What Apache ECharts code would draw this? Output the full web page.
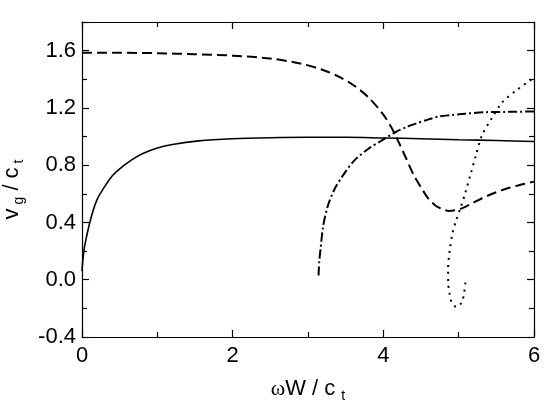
<!DOCTYPE html>
<html>
<head>
<meta charset="utf-8">
<script src="https://cdn.jsdelivr.net/npm/echarts@6/dist/echarts.min.js"></script>
<style>
  html, body { margin: 0; padding: 0; background: #fff; }
  #chart { width: 546px; height: 410px; }
</style>
</head>
<body>
<div id="chart"></div>
<script>
// [omega W / c_t, v_g / c_t]
const solidCurve = [
  [0, 0.06], [0.01, 0.13], [0.03, 0.22], [0.06, 0.30], [0.09, 0.37], [0.14, 0.47],
  [0.2, 0.56], [0.3, 0.65], [0.4, 0.725], [0.5, 0.775], [0.67, 0.84], [0.8, 0.88],
  [1.0, 0.92], [1.2, 0.945], [1.55, 0.97], [2.0, 0.985], [2.5, 0.992], [3.0, 0.995],
  [3.5, 0.995], [4.0, 0.99], [4.5, 0.985], [5.0, 0.978], [5.5, 0.972], [6.0, 0.965]
];
const dashedCurve = [
  [0, 1.585], [0.5, 1.585], [1.0, 1.582], [1.5, 1.575], [2.0, 1.565], [2.5, 1.545],
  [2.9, 1.51], [3.2, 1.465], [3.4, 1.42], [3.6, 1.36], [3.8, 1.275], [3.99, 1.16],
  [4.1, 1.07], [4.2, 0.965], [4.3, 0.85], [4.4, 0.735], [4.5, 0.645], [4.6, 0.565],
  [4.7, 0.515], [4.8, 0.49], [4.87, 0.48], [4.95, 0.485], [5.05, 0.50], [5.2, 0.54],
  [5.4, 0.59], [5.6, 0.63], [5.8, 0.66], [6.0, 0.685]
];
const dashDotCurve = [
  [3.14, 0.03], [3.15, 0.13], [3.17, 0.23], [3.2, 0.37], [3.26, 0.51], [3.35, 0.63],
  [3.46, 0.725], [3.61, 0.83], [3.79, 0.91], [3.97, 0.97], [4.16, 1.03], [4.3, 1.065],
  [4.43, 1.09], [4.6, 1.12], [4.74, 1.14], [4.9, 1.15], [5.09, 1.16], [5.36, 1.17],
  [5.6, 1.172], [6.0, 1.175]
];
const dottedCurve = [
  [5.09, -0.02], [5.07, -0.1], [5.04, -0.16], [4.97, -0.19], [4.91, -0.16], [4.88, -0.1],
  [4.86, -0.01], [4.86, 0.08], [4.88, 0.2], [4.92, 0.33], [4.97, 0.42], [5.03, 0.51],
  [5.09, 0.61], [5.16, 0.74], [5.23, 0.87], [5.31, 1.01], [5.43, 1.12], [5.58, 1.24],
  [5.76, 1.32], [5.97, 1.40], [6.0, 1.41]
];

const font = 'Liberation Sans, Arial, sans-serif';
const axisLine = { show: true, onZero: false, lineStyle: { color: '#000', width: 1.2 } };
const tick = { show: true, inside: true, length: 7, lineStyle: { color: '#000', width: 1.2 } };
const minor = { show: true, splitNumber: 2, length: 5, lineStyle: { color: '#000', width: 1.2 } };
const label = { color: '#000', fontSize: 22, fontFamily: font };

function line(data, width, type) {
  return {
    type: 'line', data: data, showSymbol: false, symbol: 'none', smooth: 0.3,
    lineStyle: { color: '#000', width: width, type: type }
  };
}

const chart = echarts.init(document.getElementById('chart'));
chart.setOption({
  animation: false,
  backgroundColor: '#fff',
  grid: { left: 82, right: 12, top: 22, bottom: 73, containLabel: false, outerBoundsMode: 'none' },
  xAxis: [
    {
      type: 'value', min: 0, max: 6, interval: 2, position: 'bottom',
      axisLine: axisLine, axisTick: tick, minorTick: minor, splitLine: { show: false },
      axisLabel: Object.assign({ margin: 8 }, label),
      name: '{w|ω}{a|W / c}{s|t}', nameLocation: 'middle', nameGap: 38,
      nameTextStyle: {
        rich: {
          w: { fontSize: 22, fontFamily: 'Liberation Serif, serif', color: '#000' },
          a: { fontSize: 22, fontFamily: font, color: '#000' },
          s: { fontSize: 14, fontFamily: font, color: '#000', padding: [14, 0, 0, 6] }
        }
      }
    },
    {
      type: 'value', min: 0, max: 6, interval: 2, position: 'top',
      axisLine: axisLine, axisTick: tick, minorTick: minor, splitLine: { show: false },
      axisLabel: { show: false }
    }
  ],
  yAxis: [
    {
      type: 'value', min: -0.4, max: 1.8, interval: 0.4, position: 'left',
      axisLine: axisLine, axisTick: tick, minorTick: minor, splitLine: { show: false },
      axisLabel: Object.assign({ margin: 6, showMaxLabel: false, formatter: v => v.toFixed(1) }, label),
      name: '{a|v}{s|g}{a| / c}{s|t}', nameLocation: 'middle', nameGap: 56, nameRotate: 90,
      nameTextStyle: {
        padding: [0, 20, 0, 0],
        rich: {
          a: { fontSize: 22, fontFamily: font, color: '#000' },
          s: { fontSize: 14, fontFamily: font, color: '#000', padding: [14, 0, 0, 4] }
        }
      }
    },
    {
      type: 'value', min: -0.4, max: 1.8, interval: 0.4, position: 'right',
      axisLine: axisLine, axisTick: tick, minorTick: minor, splitLine: { show: false },
      axisLabel: { show: false }
    }
  ],
  series: [
    line(solidCurve, 1.6, 'solid'),
    line(dashedCurve, 2, [10, 5]),
    line(dashDotCurve, 2, [9, 3, 2, 3]),
    line(dottedCurve, 2, [2, 5])
  ]
});
window.addEventListener('resize', chart.resize);
</script>
</body>
</html>
